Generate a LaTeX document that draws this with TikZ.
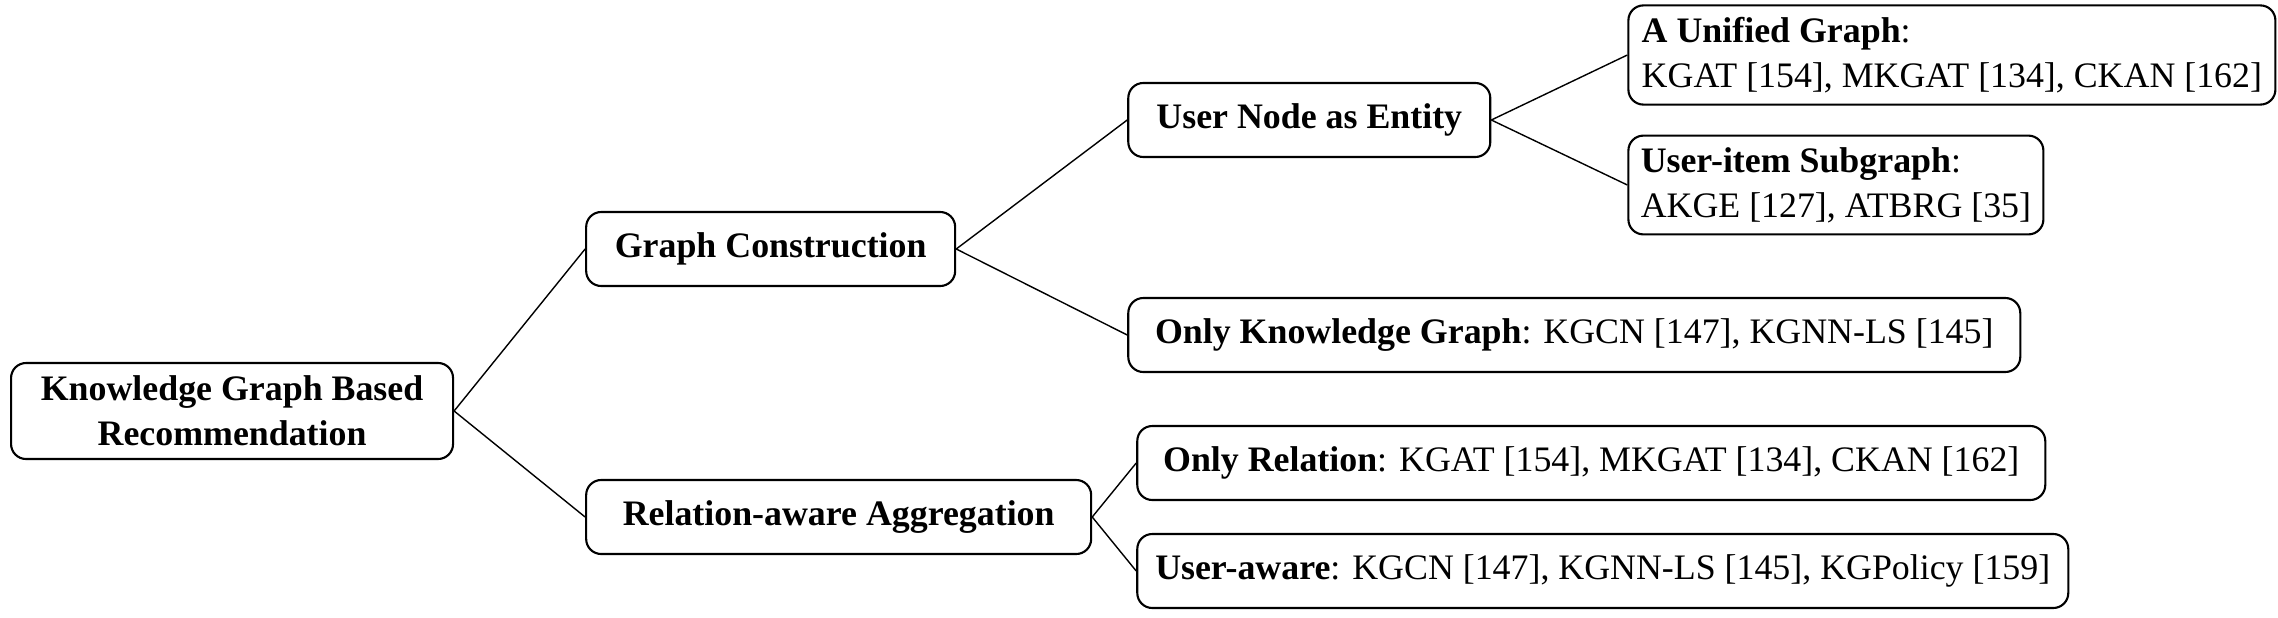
\documentclass[tikz,border=0pt]{standalone}
\usepackage{fontspec}
\setmainfont{Liberation Serif}
\usetikzlibrary{positioning}

\begin{document}
\begin{tikzpicture}[font=\fontsize{10.2}{12.8}\selectfont,
		box/.style={draw,
			rounded corners=1.5mm,
			line width=0.6pt,
			inner xsep=3.3pt,
			minimum height=0.74cm,
			align=left},
		link/.style={line width=0.4pt}]
		\useasboundingbox (0,0) rectangle (22.78,6.17);

		\node[box,
			align=center,
			minimum width=4.42cm,
			minimum height=0.96cm,
			anchor=west
		] (root) at (0.10,2.06) {\textbf{Knowledge Graph Based}\\\textbf{Recommendation}};

		\node[box,
			right=1.31cm of root,
			yshift=1.62cm,
			minimum width=3.69cm
		] (construct) {\textbf{Graph Construction}};

		\node[box,
			right=1.31cm of root,
			yshift=-1.06cm,
			minimum width=5.05cm
		] (aggregate) {\textbf{Relation-aware Aggregation}};

		\node[box,
			right=1.71cm of construct,
			yshift=1.29cm,
			minimum width=3.62cm
		] (usernode) {\textbf{User Node as Entity}};

		\node[box,
			right=1.71cm of construct,
			yshift=-0.86cm,
			minimum width=8.92cm
		] (onlykg) {\textbf{Only Knowledge Graph}: KGCN [147], KGNN-LS [145]};

		\node[box,
			right=1.36cm of usernode,
			yshift=0.65cm,
			minimum width=6.47cm
		] (unified) {\textbf{A Unified Graph}:\\KGAT [154], MKGAT [134], CKAN [162]};

		\node[box,
			right=1.36cm of usernode,
			yshift=-0.65cm,
			minimum width=4.15cm
		] (subgraph) {\textbf{User-item Subgraph}:\\AKGE [127], ATBRG [35]};

		\node[box,
			right=0.44cm of aggregate,
			yshift=0.54cm,
			minimum width=9.08cm
		] (onlyrel) {\textbf{Only Relation}: KGAT [154], MKGAT [134], CKAN [162]};

		\node[box,
			right=0.44cm of aggregate,
			yshift=-0.54cm,
			minimum width=9.31cm
		] (useraware) {\textbf{User-aware}: KGCN [147], KGNN-LS [145], KGPolicy [159]};

		\draw[link] (root.east) -- (construct.west)
		(root.east) -- (aggregate.west)
		(construct.east) -- (usernode.west)
		(construct.east) -- (onlykg.west)
		(usernode.east) -- (unified.west)
		(usernode.east) -- (subgraph.west)
		(aggregate.east) -- (onlyrel.west)
		(aggregate.east) -- (useraware.west);

	\end{tikzpicture}
\end{document}
